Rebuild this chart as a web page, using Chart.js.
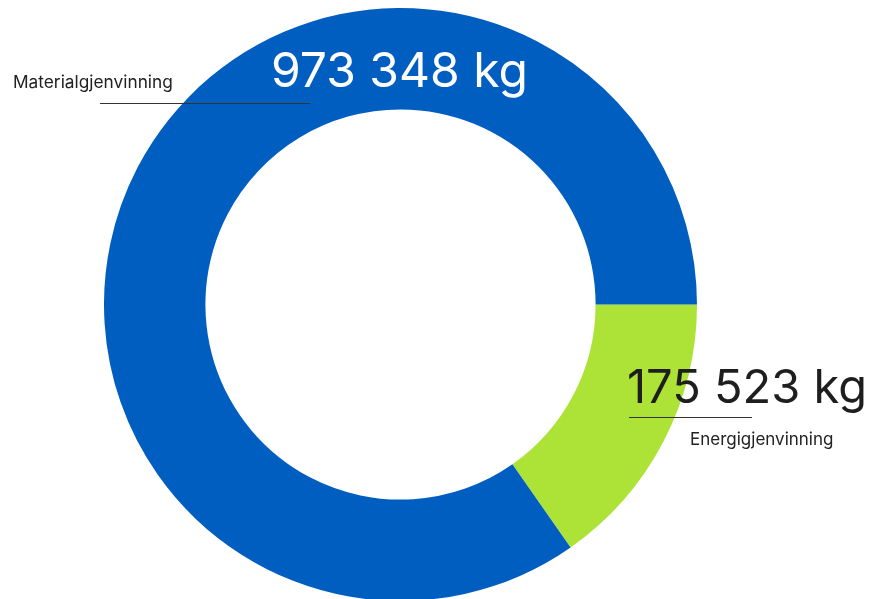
<!DOCTYPE html>
<html>
<head>
<meta charset="utf-8">
<script src="https://cdn.jsdelivr.net/npm/chart.js@4/dist/chart.umd.min.js"></script>
<style>
    html, body { margin: 0; padding: 0; background: #fff; }
    #wrap { position: relative; width: 874px; height: 599px; overflow: hidden; font-family: 'Inter', sans-serif; }
    #chartBox { position: absolute; left: 104px; top: 8px; width: 593px; height: 593px; }
    .value { position: absolute; font-size: 48px; font-weight: 400; line-height: 1; white-space: nowrap; letter-spacing: 0; }
    .name { position: absolute; font-size: 17px; color: #222; line-height: 1; white-space: nowrap; }
    .rule { position: absolute; height: 1px; background: #333; }
</style>
</head>
<body>
<div id="wrap">
    <div id="chartBox"><canvas id="recyclingChart"></canvas></div>

    <div class="value" id="val0" style="left:627px; top:362px; color:#1e1e1e; font-size:47px;"></div>
    <div class="rule" style="left:629px; top:417px; width:123px;"></div>
    <div class="name" id="name0" style="left:690px; top:431px;"></div>

    <div class="value" id="val1" style="left:271px; top:46px; color:#fff;"></div>
    <div class="rule" style="left:100px; top:103px; width:210px;"></div>
    <div class="name" id="name1" style="left:13px; top:73px; font-size:17.3px;"></div>
</div>

<script>
// Data (green slice first, starting at 3 o'clock)
const categories = ['Energigjenvinning', 'Materialgjenvinning'];
const amounts = [175523, 973348];
const sliceColors = ['#ade337', '#005ec0'];

function formatKg(v) {
    return String(v).replace(/\B(?=(\d{3})+(?!\d))/g, ' ') + ' kg';
}

categories.forEach((name, i) => {
    document.getElementById('name' + i).textContent = name;
    document.getElementById('val' + i).textContent = formatKg(amounts[i]);
});

const ctx = document.getElementById('recyclingChart');
new Chart(ctx, {
    type: 'doughnut',
    data: {
        labels: categories,
        datasets: [{
            data: amounts,
            backgroundColor: sliceColors,
            borderWidth: 0
        }]
    },
    options: {
        responsive: true,
        maintainAspectRatio: false,
        animation: false,
        rotation: 90,
        cutout: '65.8%',
        layout: { padding: 0 },
        plugins: {
            legend: { display: false },
            tooltip: { enabled: false }
        }
    }
});
</script>
</body>
</html>
